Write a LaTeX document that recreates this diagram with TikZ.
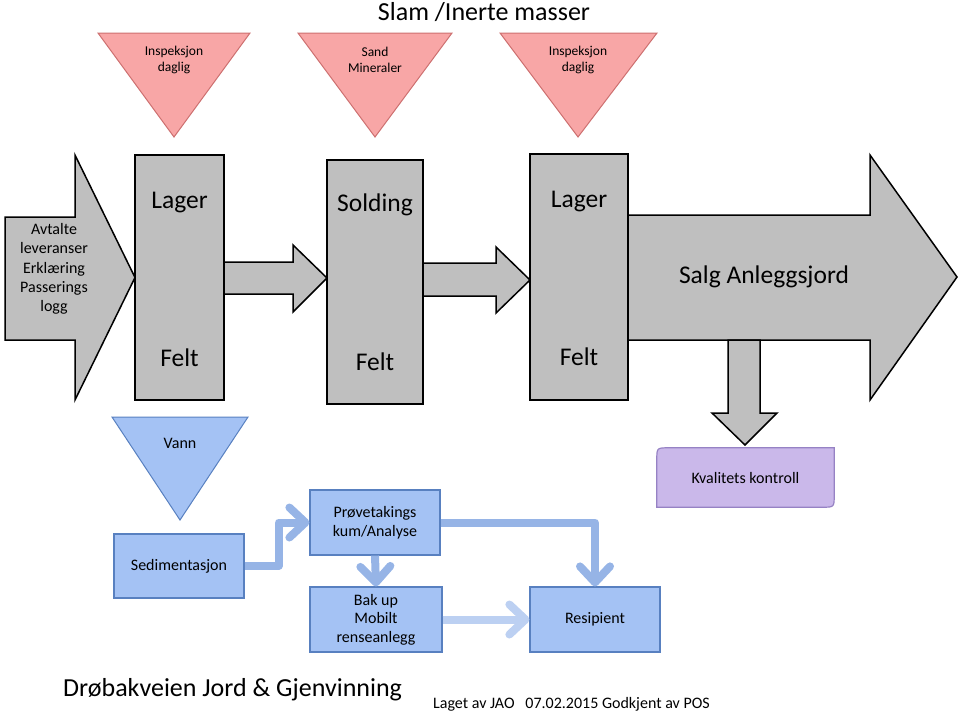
\documentclass[tikz,border=0pt]{standalone}
\usepackage{fontspec}
\setmainfont{Carlito}
\usetikzlibrary{arrows.meta}

\definecolor{boxgray}{RGB}{191,191,191}
\definecolor{trired}{RGB}{248,166,166}
\definecolor{trireddraw}{RGB}{205,112,112}
\definecolor{waterblue}{RGB}{164,194,244}
\definecolor{waterdraw}{RGB}{88,128,192}
\definecolor{flowblue}{RGB}{150,180,230}
\definecolor{flowpale}{RGB}{188,208,242}
\definecolor{kvalpurple}{RGB}{202,184,234}
\definecolor{kvaldraw}{RGB}{150,130,196}

\begin{document}
\begin{tikzpicture}[x=1pt,y=-1pt]

    \tikzset{
      stage/.style={
        draw=black,
        line width=1.5pt,
        fill=boxgray,
        inner sep=0pt,
      },
      blockarrow/.style={
        draw=black,
        line width=1.5pt,
        fill=boxgray,
        line join=miter,
      },
      bigtext/.style={
        font=\fontsize{25.5}{30}\selectfont,
        inner sep=0pt,
      },
      smalltext/.style={
        font=\fontsize{13.5}{16.5}\selectfont,
        align=center,
        inner sep=0pt,
      },
      redtri/.style={
        draw=trireddraw,
        line width=1pt,
        fill=trired,
      },
      watertri/.style={
        draw=waterdraw,
        line width=1pt,
        fill=waterblue,
      },
      waterbox/.style={
        draw=waterdraw,
        line width=1.2pt,
        fill=waterblue,
        font=\fontsize{16}{18.5}\selectfont,
        align=center,
        inner sep=0pt,
      },
      flow/.style={
        draw=flowblue,
        line width=8pt,
        line join=round,
        -{Straight Barb[length=16pt,width=30pt,round]},
      },
    }
    \useasboundingbox (0,0) rectangle (960,713);

    \node[bigtext,font=\fontsize{26}{30}\selectfont] (title) at (484,12) {Slam /Inerte masser};

    \draw[redtri] (98,33)--(250,33)--(174,137)--cycle;
    \draw[redtri] (298,33)--(452,33)--(375,137)--cycle;
    \draw[redtri] (500,33)--(657,33)--(578,137)--cycle;
    \node[smalltext] (insp1) at (174,60) {Inspeksjon\\daglig};
    \node[smalltext] (sand) at (375,60) {Sand\\Mineraler};
    \node[smalltext] (insp2) at (578,60) {Inspeksjon\\daglig};

    \draw[blockarrow] (5,217)--(75,217)--(75,155)--(135,277.5)--(75,400)--(75,340)--(5,340)--cycle;
    \node[font=\fontsize{16}{19.3}\selectfont,align=center,inner sep=0pt] (avtalte) at (54,269) {Avtalte\\leveranser\\Erklæring\\Passerings\\logg};
    \draw[blockarrow] (224,262)--(293,262)--(293,245)--(327,278)--(293,312)--(293,294)--(224,294)--cycle;
    \draw[blockarrow] (423,263)--(496,263)--(496,247)--(530,280)--(496,313)--(496,296)--(423,296)--cycle;
    \draw[blockarrow] (628,215)--(870,215)--(870,155)--(957,277)--(870,400)--(870,340)--(628,340)--cycle;
    \draw[blockarrow] (728,340)--(760,340)--(760,413)--(777,413)--(745,445)--(712,413)--(728,413)--cycle;
    \node[bigtext] (salg) at (764,277) {Salg Anleggsjord};

    \node[stage,minimum width=89pt,minimum height=245pt] (lager1) at (179.5,277.5) {};
    \node[stage,minimum width=96pt,minimum height=244pt] (solding) at (375,282) {};
    \node[stage,minimum width=98pt,minimum height=246pt] (lager2) at (579,277) {};
    \node[bigtext] at ([yshift=-48pt]lager1.north) {Lager};
    \node[bigtext] at ([yshift=43pt]lager1.south) {Felt};
    \node[bigtext] at ([yshift=-46pt]solding.north) {Solding};
    \node[bigtext] at ([yshift=43pt]solding.south) {Felt};
    \node[bigtext] at ([yshift=-48pt]lager2.north) {Lager};
    \node[bigtext] at ([yshift=44pt]lager2.south) {Felt};

    \node[inner sep=0pt,minimum width=177pt,minimum height=59pt] (kval) at (745.5,477.5) {};
    \draw[draw=kvaldraw,fill=kvalpurple,line width=1.2pt]
      ([yshift=-12pt]kval.north west) .. controls (kval.north west) .. ([xshift=12pt]kval.north west)
      -- (kval.north east) -- ([yshift=12pt]kval.south east)
      .. controls (kval.south east) .. ([xshift=-12pt]kval.south east)
      -- (kval.south west) -- cycle;
    \node[font=\fontsize{16}{18.5}\selectfont,inner sep=0pt] at (kval) {Kvalitets kontroll};

    \draw[watertri] (112,417)--(248,417)--(180,520)--cycle;
    \node[font=\fontsize{16}{18.5}\selectfont,inner sep=0pt] (vann) at (180,443) {Vann};

    \node[waterbox,minimum width=130pt,minimum height=64pt] (sed) at (179,566) {Sedimentasjon};
    \node[waterbox,minimum width=130pt,minimum height=65pt] (prove) at (375,522.5) {Prøvetakings\\kum/Analyse};
    \node[waterbox,minimum width=132pt,minimum height=65pt] (bak) at (376,619.5) {Bak up\\Mobilt\\renseanlegg};
    \node[waterbox,minimum width=130pt,minimum height=65pt] (resip) at (595,619.5) {Resipient};

    \draw[flow] (sed.east) -- ++(34,0) |- (prove.west);
    \draw[flow] (prove.south) -- (bak.north);
    \draw[flow] (prove.east) -| (resip.north);
    \draw[flow,draw=flowpale] (bak.east) -- (resip.west);

    \node[anchor=west,font=\fontsize{26}{30}\selectfont,inner sep=0pt] (firm) at (63,690) {Drøbakveien Jord \& Gjenvinning};
    \node[anchor=west,font=\fontsize{16}{18}\selectfont,inner sep=0pt] (laget) at (433,704) {Laget av JAO\ \ \ 07.02.2015 Godkjent av POS};

\end{tikzpicture}
\end{document}
